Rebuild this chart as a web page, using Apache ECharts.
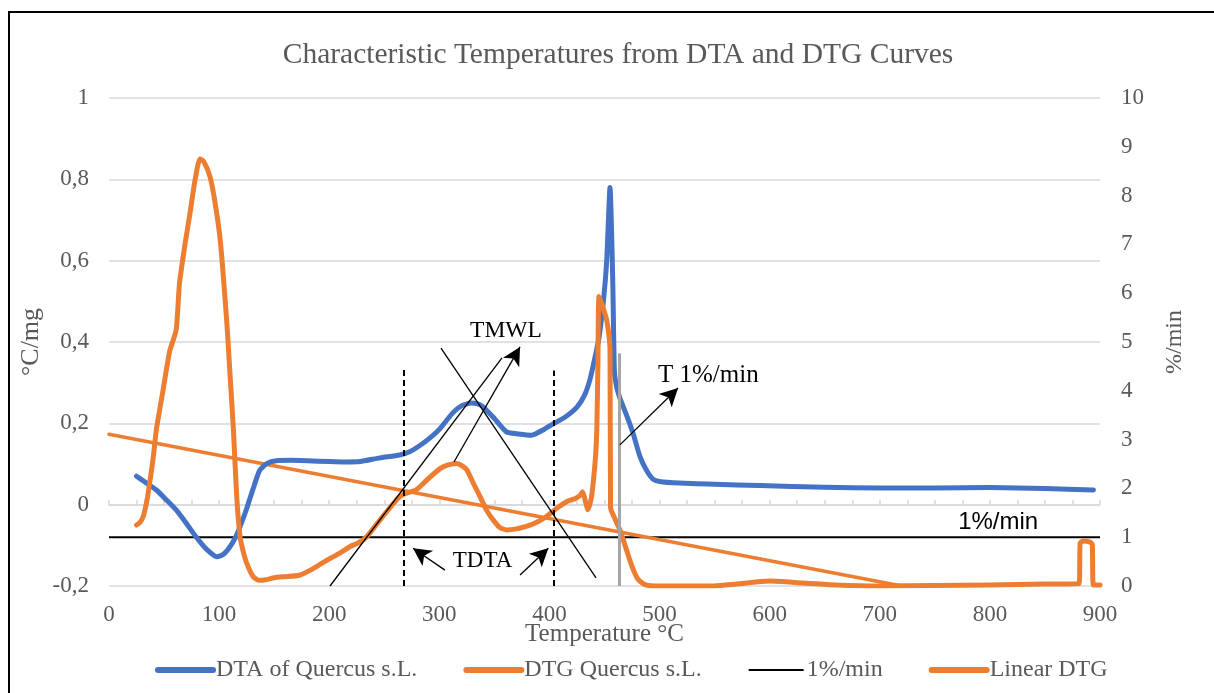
<!DOCTYPE html>
<html>
<head>
<meta charset="utf-8">
<script src="https://cdn.jsdelivr.net/npm/echarts@6/dist/echarts.min.js"></script>
<style>
html,body{margin:0;padding:0;background:#fff;}
#chart{width:1214px;height:693px;}
</style>
</head>
<body>
<div id="chart"></div>
<script>
// ---- data ----
const dtaX = [25,33,43,52,61,70,79,88,98,104,110,115,119,125,131,137,144,152,165,180,200,215,228,246,264,273,282,291,300,312,320,329,335,340,350,361,372,384,395,403,414,425,432,437,442,445,449,452,455,457.5,459,461,464,470,476,482,488,494,500,518,550,591,650,700,750,800,850,894];
const dtaY = [0.070,0.055,0.036,0.012,-0.013,-0.045,-0.079,-0.108,-0.128,-0.122,-0.103,-0.080,-0.054,-0.010,0.040,0.085,0.102,0.108,0.109,0.108,0.106,0.105,0.106,0.115,0.122,0.130,0.145,0.163,0.185,0.225,0.243,0.250,0.248,0.240,0.212,0.179,0.174,0.171,0.185,0.198,0.215,0.240,0.270,0.310,0.370,0.410,0.500,0.600,0.780,0.550,0.330,0.290,0.262,0.220,0.175,0.120,0.085,0.063,0.057,0.053,0.050,0.047,0.043,0.041,0.041,0.042,0.040,0.036];

const dtgX = [25,28,31,34,36,40,43,49,55,61,64,69,73.5,78,82.6,86,91.7,96,101,107,110,113,116,119,122,125,131,136,140,150,158,173,185,198,210,219,226,234,246,255,264,270,279,290,301,308,316,320,325,331,337,343,349,355,361,370,379,388,397,407,416,424,428,430,432,435,438,440,442,443,444,445,448,452,455,455.5,458,462,464,467,470,475,480,485,490,500,550,570,600,630,660,700,750,800,850,881,882,885,891,893,894,900];
const dtgY = [1.25,1.30,1.42,1.70,1.97,2.60,3.20,4.00,4.80,5.25,6.20,7.00,7.63,8.30,8.75,8.70,8.39,7.90,7.09,5.40,4.30,3.20,1.83,1.01,0.70,0.47,0.19,0.12,0.12,0.17,0.19,0.22,0.35,0.53,0.68,0.81,0.88,1.01,1.35,1.60,1.83,1.90,1.97,2.20,2.41,2.48,2.51,2.47,2.38,2.10,1.83,1.55,1.35,1.20,1.15,1.17,1.22,1.30,1.42,1.60,1.73,1.80,1.86,1.93,1.80,1.56,1.80,2.17,2.70,3.20,4.50,5.93,5.75,5.45,4.84,1.60,1.45,1.25,1.15,0.95,0.74,0.40,0.15,0.05,0.01,0.00,0.00,0.04,0.10,0.06,0.02,0.00,0.01,0.02,0.04,0.05,0.88,0.92,0.90,0.85,0.02,0.02];

const refX = [0, 900];          // 1%/min reference line
const refY = [1, 1];
const linX = [0, 720];          // Linear DTG trendline
const linY = [3.11, 0];

const xTicks = [0,100,200,300,400,500,600,700,800,900];
const leftTicks = [-0.2,0,0.2,0.4,0.6,0.8,1];
const rightTicks = [0,1,2,3,4,5,6,7,8,9,10];

// annotation geometry in data units (x in °C, y on the °C/mg axis)
const dashLines = [[[268,-0.2],[268,0.336]], [[403.5,-0.2],[403.5,0.33]]];
const greyLine = [[463,-0.2],[463,0.372]];
const plainLines = [[[200.7,-0.2],[356.9,0.361]], [[301.5,0.385],[442.3,-0.18]]];
const arrowLines = [[[313.3,0.105],[373.3,0.388]], [[464,0.147],[516.8,0.287]], [[305.1,-0.161],[276.1,-0.107]], [[373.3,-0.173],[399,-0.107]]];
const notes = [
  {text:'TMWL', at:[360.5,0.428], align:'center', font:'Liberation Serif', size:23.5},
  {text:'T 1%/min', at:[498.6,0.318], align:'left', font:'Liberation Serif', size:25},
  {text:'TDTA', at:[339.2,-0.138], align:'center', font:'Liberation Serif', size:23},
  {text:'1%/min', at:[807.5,-0.044], align:'center', font:'Liberation Sans', size:24}
];

const zip = (a,b) => a.map((v,i)=>[v,b[i]]);
const serif = 'Liberation Serif';
const grey = '#595959';

const chart = echarts.init(document.getElementById('chart'), null, {renderer:'canvas'});

function seg(p, opts) {
  return [Object.assign({coord:p[0]}, opts[0]||{}), Object.assign({coord:p[1]}, opts[1]||{})];
}

const markData = [];
dashLines.forEach(l => markData.push(seg(l,[{symbol:'none',lineStyle:{type:[6,4],color:'#000',width:2}},{symbol:'none'}])));
markData.push(seg(greyLine,[{symbol:'none',lineStyle:{type:'solid',color:'#a6a6a6',width:3}},{symbol:'none'}]));
plainLines.forEach(l => markData.push(seg(l,[{symbol:'none',lineStyle:{type:'solid',color:'#000',width:1.3}},{symbol:'none'}])));
arrowLines.forEach(l => markData.push(seg(l,[{symbol:'none',lineStyle:{type:'solid',color:'#000',width:1.3}},{symbol:'arrow',symbolSize:[14,18]}])));

const option = {
  animation:false,
  textStyle:{fontFamily:serif},
  title:{
    text:'Characteristic Temperatures from DTA and DTG Curves',
    left:613, top:35, textAlign:'center',
    textStyle:{fontFamily:serif, fontSize:29.5, fontWeight:'normal', color:grey}
  },
  grid:{left:109, right:114, top:98, bottom:107, containLabel:false},
  legend:{
    bottom:6, left:150, itemGap:46, itemWidth:55, itemHeight:12,
    itemStyle:{opacity:0},
    textStyle:{fontFamily:serif, fontSize:24, color:grey, padding:[0,0,0,-2]},
    data:[
      {name:'DTA of Quercus s.L.', lineStyle:{width:6, cap:'round'}},
      {name:'DTG Quercus s.L.', lineStyle:{width:6, cap:'round'}},
      {name:'1%/min', lineStyle:{width:2}},
      {name:'Linear DTG', lineStyle:{width:6, cap:'round'}}
    ]
  },
  xAxis:{
    type:'value', min:0, max:900, interval:25,
    name:'Temperature °C', nameLocation:'middle', nameGap:36, nameMoveOverlap:false,
    nameTextStyle:{fontFamily:serif, fontSize:25, color:grey},
    axisLine:{show:true, lineStyle:{color:'#d9d9d9', width:1.5}},
    axisTick:{show:true, inside:true, length:5, lineStyle:{color:'#d9d9d9', width:1.5}},
    axisLabel:{fontFamily:serif, fontSize:23, color:grey, margin:17,
      formatter:v => xTicks.includes(v) ? String(v) : ''},
    splitLine:{show:false}
  },
  yAxis:[
    {
      type:'value', min:-0.2, max:1, interval:0.2,
      axisLine:{show:false}, axisTick:{show:false},
      axisLabel:{fontFamily:serif, fontSize:23, color:grey, margin:20,
        formatter:v => { const t = leftTicks.find(k=>Math.abs(k-v)<1e-6); return t===undefined?'':String(Math.round(t*10)/10).replace('.',','); }},
      splitLine:{show:true, lineStyle:{color:'#d9d9d9', width:1.5}}
    },
    {
      type:'value', min:0, max:10, interval:1,
      axisLine:{show:false}, axisTick:{show:false},
      axisLabel:{fontFamily:serif, fontSize:23, color:grey, margin:21,
        formatter:v => rightTicks.includes(Math.round(v)) ? String(Math.round(v)) : ''},
      splitLine:{show:false}
    }
  ],
  graphic:[
    {type:'rect', shape:{x:9, y:12, width:1230, height:720}, style:{fill:null, stroke:'#000', lineWidth:2}, silent:true, z:100},
    {type:'text', x:31, y:342, rotation:Math.PI/2, style:{text:'°C/mg', fontFamily:serif, fontSize:26, fill:grey, align:'center', verticalAlign:'middle'}},
    {type:'text', x:1175, y:342, rotation:Math.PI/2, style:{text:'%/min', fontFamily:serif, fontSize:24, fill:grey, align:'center', verticalAlign:'middle'}}
  ],
  series:[
    {
      name:'DTA of Quercus s.L.', type:'line', yAxisIndex:0, data:zip(dtaX,dtaY),
      showSymbol:false, symbol:'none', smooth:0.2,
      lineStyle:{color:'#4472C4', width:5, cap:'round', join:'round'}, itemStyle:{color:'#4472C4'}, z:3,
      markLine:{silent:true, animation:false, label:{show:false}, emphasis:{disabled:true}, data:markData}
    },
    {
      name:'DTG Quercus s.L.', type:'line', yAxisIndex:1, data:zip(dtgX,dtgY),
      showSymbol:false, symbol:'none', smooth:0.2,
      lineStyle:{color:'#ED7D31', width:5, cap:'round', join:'round'}, itemStyle:{color:'#ED7D31'}, z:4
    },
    {
      name:'1%/min', type:'line', yAxisIndex:1, data:zip(refX,refY),
      showSymbol:false, symbol:'none',
      lineStyle:{color:'#000', width:2}, itemStyle:{color:'#000'}, z:2
    },
    {
      name:'Linear DTG', type:'line', yAxisIndex:1, data:zip(linX,linY),
      showSymbol:false, symbol:'none',
      lineStyle:{color:'#ED7D31', width:3.5, cap:'round'}, itemStyle:{color:'#ED7D31'}, z:2
    }
  ]
};
chart.setOption(option);

// text annotations placed through the chart's own coordinate conversion
const g = option.graphic.slice();
notes.forEach(n => {
  const p = chart.convertToPixel({xAxisIndex:0, yAxisIndex:0}, n.at);
  g.push({type:'text', x:p[0], y:p[1], z:50,
    style:{text:n.text, fontFamily:n.font, fontSize:n.size, fill:'#000', align:n.align, verticalAlign:'middle'}});
});
chart.setOption({graphic:g}, {replaceMerge:['graphic']});
</script>
</body>
</html>
